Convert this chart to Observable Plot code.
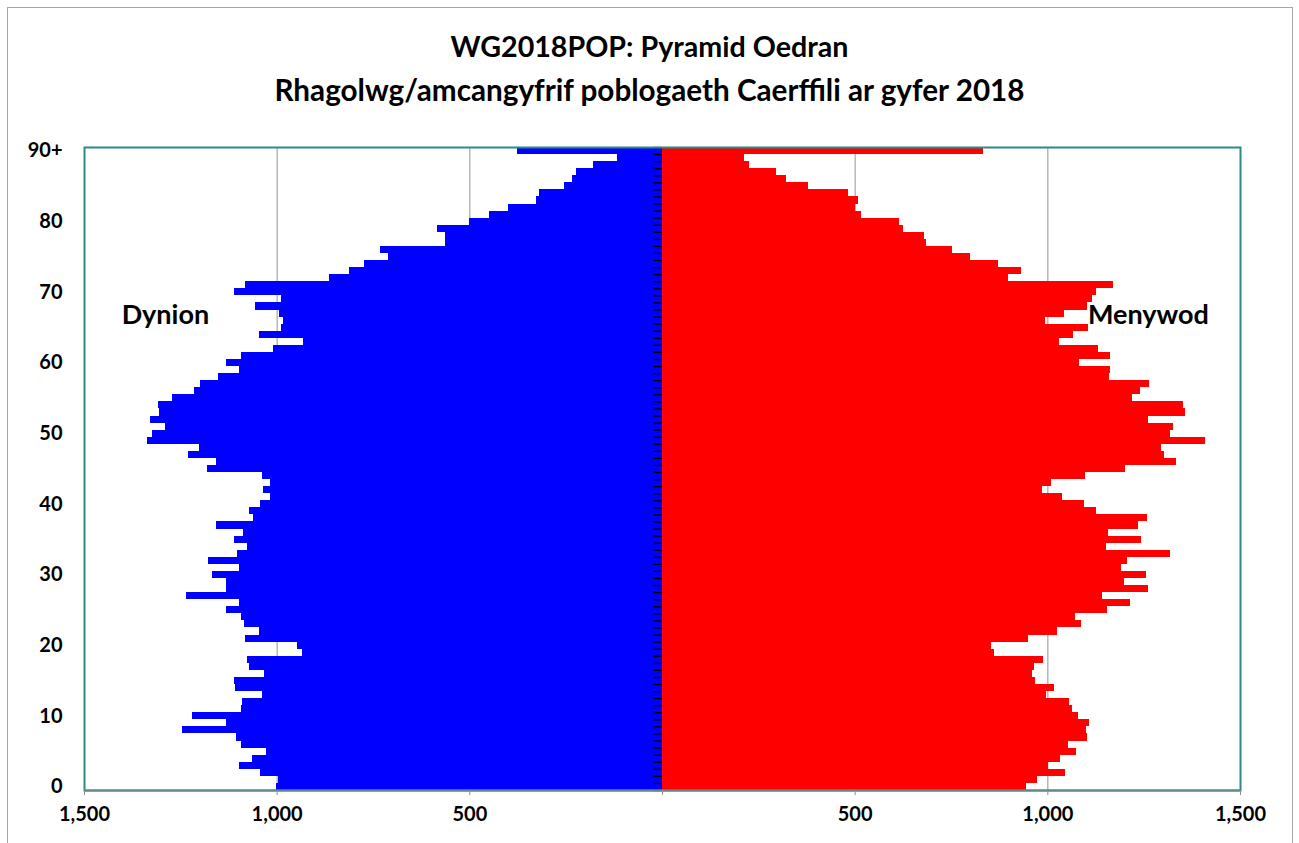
<!DOCTYPE html>
<html>
<head>
<meta charset="utf-8">
<script src="https://cdn.jsdelivr.net/npm/d3@7"></script>
<script src="https://cdn.jsdelivr.net/npm/@observablehq/plot@0.6"></script>
<style>
  body { margin: 0; background: #fff; }
  #wrap { position: relative; width: 1299px; height: 843px; overflow: hidden; font-family: Lato, "Open Sans", sans-serif; }
  #border { position: absolute; left: 7px; top: 7px; width: 1286px; height: 900px; border: 1.5px solid #a6a6a6; box-sizing: border-box; }
  #plot { position: absolute; left: 0; top: 0; }
  .title { position: absolute; left: 0; width: 1299px; text-align: center; font-weight: bold; white-space: nowrap; line-height: 1; color: #000; }
  .title span { display: inline-block; }
</style>
</head>
<body>
<div id="wrap">
  <div id="border"></div>
  <div id="plot"></div>
  <div class="title" id="t1"><span>WG2018POP: Pyramid Oedran</span></div>
  <div class="title" id="t2"><span>Rhagolwg/amcangyfrif poblogaeth Caerffili ar gyfer 2018</span></div>
</div>
<script>
// Ages 0..90 (90 = "90+")
const ages = d3.range(0, 91);
// Dynion (men), by age 0..90
const men = [1002, 997, 1042, 1097, 1065, 1028, 1093, 1106, 1245, 1132,
             1219, 1093, 1089, 1039, 1108, 1112, 1032, 1071, 1076, 935,
             947, 1082, 1046, 1086, 1093, 1132, 1099, 1234, 1132, 1132,
             1167, 1099, 1177, 1102, 1078, 1112, 1088, 1158, 1062, 1072,
             1042, 1018, 1035, 1018, 1038, 1182, 1157, 1231, 1202, 1337,
             1324, 1291, 1330, 1305, 1307, 1271, 1215, 1200, 1151, 1099,
             1131, 1093, 1009, 931, 1046, 989, 983, 995, 1057, 989,
             1111, 1082, 865, 812, 773, 710, 733, 564, 562, 583,
             500, 448, 400, 327, 318, 254, 234, 222, 179, 117,
             376];
// Menywod (women), by age 0..90
const women = [945, 972, 1045, 1001, 1034, 1075, 1054, 1104, 1101, 1109,
               1079, 1063, 1057, 997, 1018, 968, 960, 965, 988, 861,
               855, 949, 1025, 1087, 1072, 1156, 1215, 1143, 1261, 1200,
               1255, 1190, 1208, 1319, 1152, 1242, 1158, 1234, 1259, 1126,
               1094, 1039, 987, 1010, 1097, 1202, 1334, 1304, 1294, 1410,
               1318, 1327, 1261, 1357, 1353, 1220, 1241, 1264, 1160, 1162,
               1083, 1162, 1132, 1029, 1067, 1106, 995, 1042, 1103, 1116,
               1126, 1170, 898, 931, 872, 800, 753, 685, 680, 625,
               615, 516, 500, 509, 483, 379, 323, 297, 225, 214,
               832];
// Age axis labels
const labelAges = [0, 10, 20, 30, 40, 50, 60, 70, 80, 90];
const labelText = ["0", "10", "20", "30", "40", "50", "60", "70", "80", "90+"];
// Population axis ticks
const xTicks = [-1500, -1000, -500, 0, 500, 1000, 1500];
const gridValues = [-1000, -500, 500, 1000];
// Side labels
const sideText = ["Dynion", "Menywod"];
const sideValue = [-1290, 1261];
const sideAge = [67.2, 67.2];

const fmt = d3.format(",");
const boundaries = d3.range(0, 92);
const tickSymbol = {
  draw(ctx, size) {
    const r = Math.sqrt(size / Math.PI);
    ctx.moveTo(-2 * r, 0);
    ctx.lineTo(-0.2 * r, 0);
  }
};

const chart = Plot.plot({
  width: 1299,
  height: 843,
  marginLeft: 84,
  marginRight: 59,
  marginTop: 147,
  marginBottom: 53,
  style: { fontFamily: "Lato, 'Open Sans', sans-serif", fontSize: "20px", fontWeight: "bold", background: "transparent", color: "#000" },
  x: { domain: [-1500, 1500] },
  y: { domain: [0, 91] },
  marks: [
    Plot.ruleX(gridValues, { stroke: "#a6a6a6", strokeWidth: 1.2 }),
    Plot.rect(ages, { x1: 0, x2: a => -men[a], y1: a => a, y2: a => a + 1, fill: "#0000ff", shapeRendering: "crispEdges" }),
    Plot.rect(ages, { x1: 0, x2: a => women[a], y1: a => a, y2: a => a + 1, fill: "#ff0000", shapeRendering: "crispEdges" }),
    Plot.dot(boundaries, { x: () => 0, y: d => d, r: 4.5, symbol: tickSymbol, stroke: "#000", strokeWidth: 1.3, fill: "none" }),
    Plot.frame({ stroke: "#2a8a8a", strokeWidth: 2 }),
    Plot.ruleY([0], { stroke: "#5f8b8b", strokeWidth: 2 }),
    Plot.axisX({ ticks: xTicks, tickFormat: d => d === 0 ? "" : fmt(Math.abs(d)), tickSize: 5, tickPadding: 11, stroke: "#8c8c8c", fill: "#000", label: null, fontSize: 20, fontWeight: "bold" }),
    Plot.axisY({ ticks: labelAges.map(a => a + 0.5), tickFormat: d => labelText[labelAges.indexOf(Math.round(d - 0.5))], tickSize: 0, tickPadding: 22, fill: "#000", label: null, fontSize: 20, fontWeight: "bold" }),
    Plot.text(sideText, { x: (d, i) => sideValue[i], y: (d, i) => sideAge[i], text: d => d, fontSize: 27, fontWeight: "bold", fill: "#000" })
  ]
});
document.getElementById("plot").appendChild(chart);

function fitTitle(id, target, centerY) {
  const div = document.getElementById(id);
  const span = div.querySelector("span");
  let size = 26;
  div.style.fontSize = size + "px";
  const w = span.getBoundingClientRect().width;
  size = size * target / w;
  div.style.fontSize = size.toFixed(2) + "px";
  div.style.top = (centerY - size * 0.55).toFixed(1) + "px";
}
fitTitle("t1", 398, 48);
fitTitle("t2", 750, 91);
</script>
</body>
</html>
